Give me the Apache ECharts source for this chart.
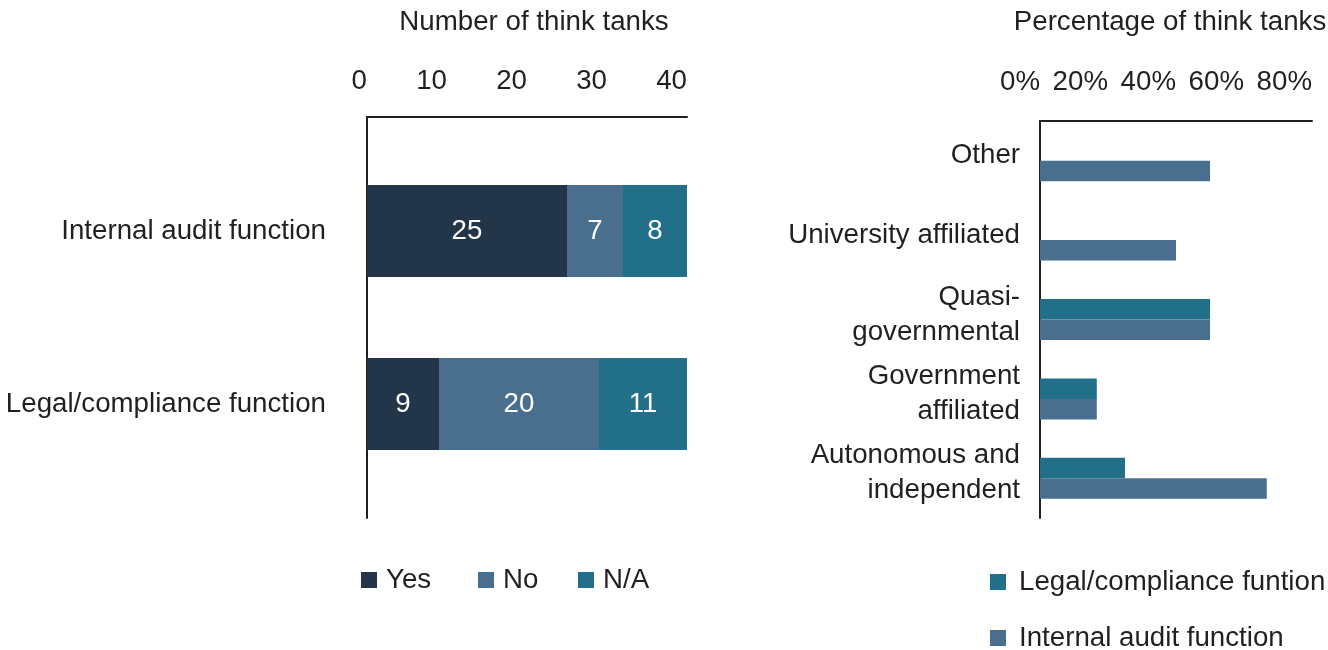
<!DOCTYPE html>
<html>
<head>
<meta charset="utf-8">
<title>Think tank oversight functions</title>
<script src="https://cdn.jsdelivr.net/npm/echarts@6/dist/echarts.min.js"></script>
<style>
  html, body { margin: 0; padding: 0; background: #ffffff; }
  #chart { width: 1328px; height: 650px; }
</style>
</head>
<body>
<div id="chart"></div>
<script>
// Left panel: counts of think tanks by function
const functionCategories = ['Internal audit function', 'Legal/compliance function'];
const yesCounts = [25, 9];
const noCounts = [7, 20];
const naCounts = [8, 11];
const countTicks = { min: 0, max: 40, interval: 10 };

// Right panel: share of think tanks by affiliation type (percent)
const affiliationCategories = ['Other', 'University affiliated', 'Quasi-\ngovernmental', 'Government\naffiliated', 'Autonomous and\nindependent'];
const legalShare = [null, null, 50, 16.7, 25];
const auditShare = [50, 40, 50, 16.7, 66.7];
const shareTicks = { min: 0, max: 80, interval: 20 };

const FONT = "'Liberation Sans', Arial, Helvetica, sans-serif";
const INK = '#231f20';
const C_YES = '#233548';
const C_NO = '#4a6f8e';
const C_NA = '#226f8a';
const FS = 27.7;

const chart = echarts.init(document.getElementById('chart'), null, { renderer: 'canvas' });

const axisLineStyle = { show: true, onZero: false, lineStyle: { color: INK, width: 2 } };

// one legend entry per series name, so each key sits at its own spot
function legendItem(name, left, top, textGap) {
  return {
    data: [name], left: left, top: top, orient: 'horizontal',
    icon: 'rect', itemWidth: 16, itemHeight: 16, padding: 0,
    selectedMode: false,
    textStyle: { fontFamily: FONT, fontSize: FS, color: INK, padding: [0, 0, 0, textGap] }
  };
}

chart.setOption({
  animation: false,
  backgroundColor: '#ffffff',
  textStyle: { fontFamily: FONT, color: INK },
  title: [
    { text: 'Number of think tanks', left: 529, top: 3, textAlign: 'center',
      textStyle: { fontFamily: FONT, fontSize: FS, fontWeight: 'normal', color: INK } },
    { text: 'Percentage of think tanks', left: 1165, top: 3, textAlign: 'center',
      textStyle: { fontFamily: FONT, fontSize: FS, fontWeight: 'normal', color: INK } }
  ],
  legend: [
    legendItem('Yes', 361, 566, 4),
    legendItem('No', 478, 566, 4),
    legendItem('N/A', 578, 566, 4),
    legendItem('Legal/compliance funtion', 990, 568, 8),
    legendItem('Internal audit function', 990, 624, 8)
  ],
  grid: [
    // frame of the left panel (axis lines and tick labels)
    { left: 367, right: 641, top: 117, bottom: 132, containLabel: false },
    // bar area of the left panel
    { left: 367, right: 641, top: 144.5, bottom: 159.5, containLabel: false },
    // right panel
    { left: 1040, right: 16, top: 121, bottom: 132, containLabel: false },
    // right panel category names, set a little above each bar pair
    { left: 1040, right: 16, top: 116, bottom: 137, containLabel: false }
  ],
  xAxis: [
    { gridIndex: 0, type: 'value', position: 'top', min: countTicks.min, max: countTicks.max, interval: countTicks.interval,
      axisLine: axisLineStyle, axisTick: { show: false }, splitLine: { show: false },
      axisLabel: { fontFamily: FONT, fontSize: FS, color: INK, align: 'right', margin: 22 } },
    { gridIndex: 1, type: 'value', min: countTicks.min, max: countTicks.max, show: false },
    { gridIndex: 2, type: 'value', position: 'top', min: shareTicks.min, max: shareTicks.max, interval: shareTicks.interval,
      axisLine: axisLineStyle, axisTick: { show: false }, splitLine: { show: false },
      axisLabel: { fontFamily: FONT, fontSize: FS, color: INK, align: 'right', margin: 25, formatter: '{value}%' } },
    { gridIndex: 3, type: 'value', min: shareTicks.min, max: shareTicks.max, show: false }
  ],
  yAxis: [
    { gridIndex: 0, type: 'value', min: 0, max: 1,
      axisLine: axisLineStyle, axisTick: { show: false }, axisLabel: { show: false }, splitLine: { show: false } },
    { gridIndex: 1, type: 'category', data: functionCategories, inverse: true,
      axisLine: { show: false }, axisTick: { show: false }, splitLine: { show: false },
      axisLabel: { fontFamily: FONT, fontSize: FS, color: INK, margin: 41, interval: 0 } },
    { gridIndex: 2, type: 'category', data: affiliationCategories, inverse: true,
      axisLine: axisLineStyle, axisTick: { show: false }, splitLine: { show: false },
      axisLabel: { show: false } },
    { gridIndex: 3, type: 'category', data: affiliationCategories, inverse: true,
      axisLine: { show: false }, axisTick: { show: false }, splitLine: { show: false },
      axisLabel: { fontFamily: FONT, fontSize: FS, color: INK, margin: 20, interval: 0, lineHeight: 35 } }
  ],
  series: [
    { name: 'Yes', type: 'bar', stack: 'count', xAxisIndex: 1, yAxisIndex: 1, data: yesCounts,
      barWidth: 92, itemStyle: { color: C_YES },
      label: { show: true, position: 'inside', color: '#ffffff', fontFamily: FONT, fontSize: FS } },
    { name: 'No', type: 'bar', stack: 'count', xAxisIndex: 1, yAxisIndex: 1, data: noCounts,
      barWidth: 92, itemStyle: { color: C_NO },
      label: { show: true, position: 'inside', color: '#ffffff', fontFamily: FONT, fontSize: FS } },
    { name: 'N/A', type: 'bar', stack: 'count', xAxisIndex: 1, yAxisIndex: 1, data: naCounts,
      barWidth: 92, itemStyle: { color: C_NA },
      label: { show: true, position: 'inside', color: '#ffffff', fontFamily: FONT, fontSize: FS } },
    { name: 'Legal/compliance funtion', type: 'bar', xAxisIndex: 2, yAxisIndex: 2, data: legalShare,
      barWidth: 20.5, barGap: '0%', itemStyle: { color: C_NA } },
    { name: 'Internal audit function', type: 'bar', xAxisIndex: 2, yAxisIndex: 2, data: auditShare,
      barWidth: 20.5, barGap: '0%', itemStyle: { color: C_NO } }
  ]
});
</script>
</body>
</html>
